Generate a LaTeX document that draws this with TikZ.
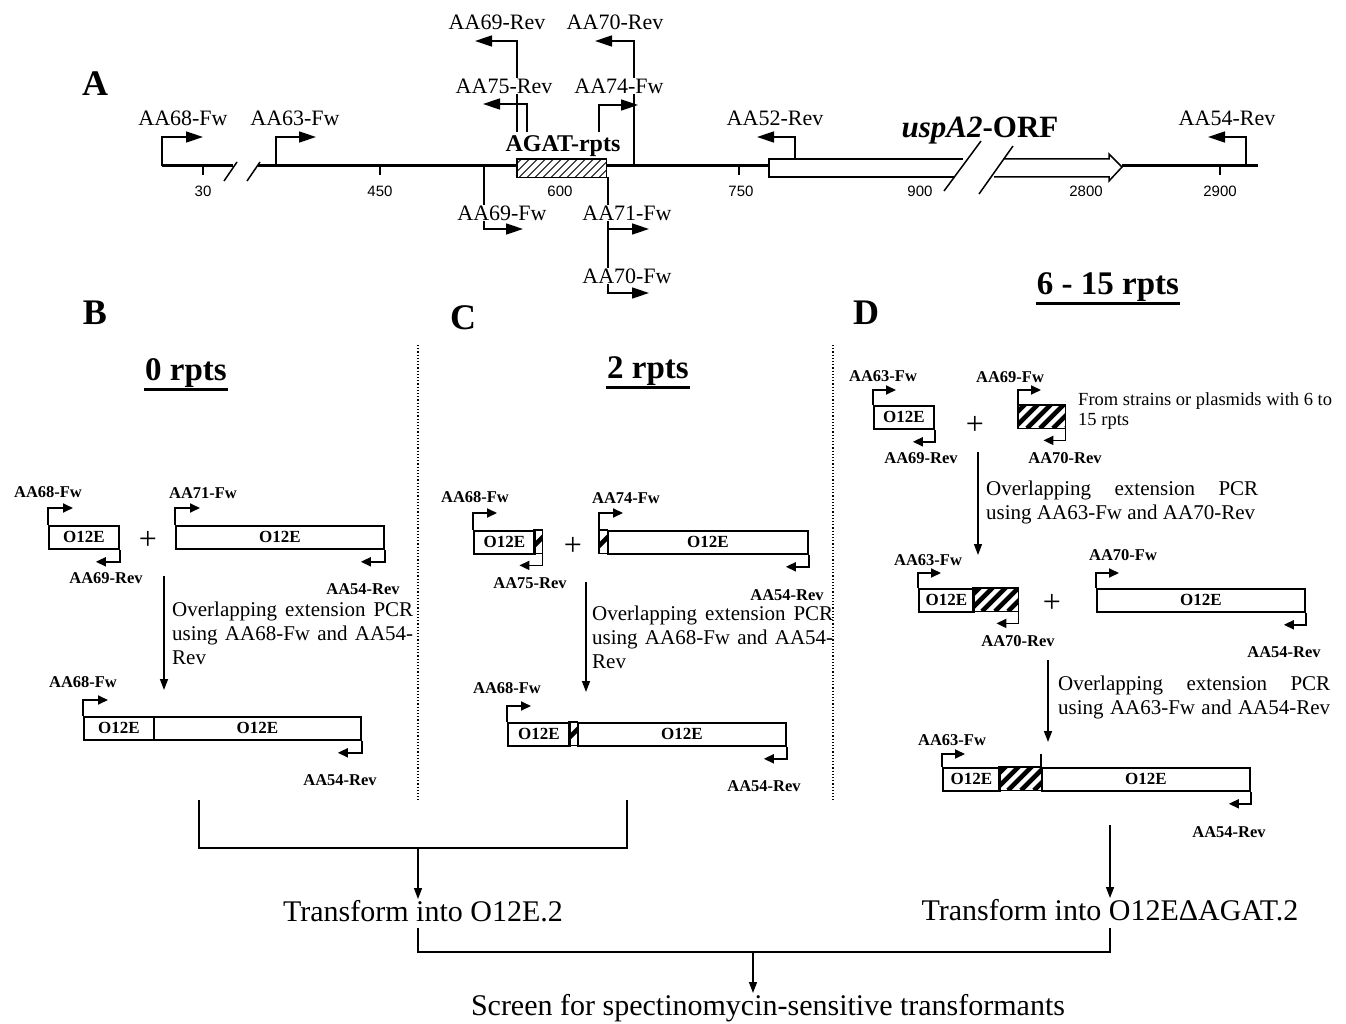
\documentclass[tikz,border=0pt]{standalone}
\usepackage{fontspec}
\setmainfont{Liberation Serif}
\setsansfont{Liberation Sans}
\usetikzlibrary{arrows.meta}
\newcommand{\fsz}[1]{\fontsize{#1}{#1}\selectfont}
\newcommand{\hatchbox}[4]{% node, spacing, line width, start offset
  \begin{scope}
    \clip (#1.south west) rectangle (#1.north east);
    \foreach \i in {0,...,14} {
      \pgfmathsetmacro{\kk}{#4+\i*#2}
      \draw[line width=#3] ([xshift=\kk pt]#1.south west) -- ++(60,-60);
    }
  \end{scope}
  \draw[line width=1.8pt] (#1.south west) rectangle (#1.north east);
}
\begin{document}
\begin{tikzpicture}[x=1pt,y=-1pt,
  every node/.style={inner sep=1pt},
  lblA/.style={font=\fsz{22}, fill=white, inner sep=1pt},
  lbl/.style={font=\fsz{16.5}\bfseries},
  primA/.style={line width=1.5pt, -{Triangle[length=17pt,width=11pt]}},
  prim/.style={line width=1.8pt, -{Triangle[length=10pt,width=9pt]}},
  seg/.style={draw, line width=1.8pt, fill=white, minimum height=23pt, inner sep=0pt, anchor=north west, font=\fsz{17}\bfseries},
  hseg/.style={minimum height=23pt, inner sep=0pt, anchor=north west},
  flow/.style={line width=1.5pt, -{Triangle[length=11pt,width=8pt]}},
  ptxt/.style={font=\fsz{21}, anchor=north west, align=left, inner sep=0pt},
  num/.style={font=\sffamily\fsz{15}},
  plus/.style={font=\fsz{32}},
  panel/.style={font=\fsz{36}\bfseries},
  head/.style={font=\fsz{33}\bfseries, inner sep=1pt},
  uline/.style={line width=2.4pt},
  divider/.style={dotted, line width=1.2pt},
  brk/.style={line width=1.5pt}
]
\useasboundingbox (0,0) rectangle (1346,1024);

% ================= Panel A =================
\node[panel] (pA) at (95,84) {A};

% main line
\coordinate (L0) at (162,166);
\coordinate (L1) at (233,166);
\coordinate (L2) at (258,166);
\coordinate (L3) at (769,166);
\coordinate (L4) at (1122,166);
\coordinate (L5) at (1258,166);
\draw[line width=3pt] (L0) -- (L1);
\draw[line width=3pt] (L2) -- (L3);
\draw[line width=3pt] (L4) -- (L5);
\draw[brk] (224,181) -- (237,162);
\draw[brk] (247,181) -- (260,162);

% ticks and numbers
\foreach \x in {203, 380, 739, 1220} {
  \draw[line width=1.5pt] (\x,166) -- (\x,175);
}
\node[num] (n30) at (203,191) {30};
\node[num] (n450) at (380,191) {450};
\node[num] (n600) at (560,191) {600};
\node[num] (n750) at (741,191) {750};
\node[num] (n900) at (920,191) {900};
\node[num] (n2800) at (1086,191) {2800};
\node[num] (n2900) at (1220,191) {2900};

% AGAT box
\node[hseg, minimum width=89pt, minimum height=18pt, fill=white] (agat) at (517,159) {};
\begin{scope}
  \clip (agat.south west) rectangle (agat.north east);
  \foreach \k in {-30,-22,...,100} {
    \draw[line width=0.9pt] ([xshift=\k pt]agat.south west) -- ++(30,-30);
  }
\end{scope}
\draw[line width=1.5pt] (agat.south west) rectangle (agat.north east);

% uspA2 ORF arrow
\filldraw[fill=white, line width=1.5pt] (963,159) -- (769,159) -- (769,177) -- (954,177);
\filldraw[fill=white, line width=1.5pt] (1004,159) -- (1109,159) -- (1109,154) -- (1122,167) -- (1109,181) -- (1109,177) -- (994,177);
\draw[brk] (944,191) -- (981,141);
\draw[brk] (979,194) -- (1013,146);
\node[font=\fsz{31}\bfseries, anchor=base] (orf) at (980,138) {\textit{uspA2}-ORF};

% primers in A
\draw[primA] (L0) -- (162,137) -- (203,137);
\draw[primA] (276,166) -- (276,137) -- (316,137);
\draw[primA] (517,132) -- (517,41) -- (475,41);
\draw[primA] (527,132) -- (527,104) -- (483,104);
\draw[primA] (634,166) -- (634,41) -- (595,41);
\draw[primA] (599,132) -- (599,105) -- (638,105);
\draw[primA] (484,166) -- (484,229) -- (523,229);
\draw[primA] (608,177) -- (608,293) -- (649,293);
\draw[primA] (608,177) -- (608,229) -- (649,229);
\draw[primA] (795,159) -- (795,137) -- (757,137);
\draw[primA] (1246,166) -- (1246,137) -- (1208,137);

\node[lblA] (a69r) at (497,22) {AA69-Rev};
\node[lblA] (a70r) at (615,22) {AA70-Rev};
\node[lblA] (a75r) at (504,86) {AA75-Rev};
\node[lblA] (a74f) at (619,86) {AA74-Fw};
\node[lblA] (a68f) at (183,118) {AA68-Fw};
\node[lblA] (a63f) at (295,118) {AA63-Fw};
\node[lblA] (a52r) at (775,118) {AA52-Rev};
\node[lblA] (a54r) at (1227,118) {AA54-Rev};
\node[font=\fsz{24}\bfseries, inner sep=0pt] (agatl) at (563,146) {AGAT-rpts};
\node[lblA] (a69f) at (502,213) {AA69-Fw};
\node[lblA] (a71f) at (627,213) {AA71-Fw};
\node[lblA] (a70f) at (627,276) {AA70-Fw};

% ================= Panel labels and headings =================
\node[panel] (pB) at (95,313) {B};
\node[panel] (pC) at (463,318) {C};
\node[panel] (pD) at (866,313) {D};
\node[head] (h0) at (186,373) {0 rpts};
\node[head] (h2) at (648,371) {2 rpts};
\node[head] (h6) at (1108,287) {6 - 15 rpts};
\draw[uline] ([yshift=-1pt]h0.south west) -- ([yshift=-1pt]h0.south east);
\draw[uline] ([yshift=-1pt]h2.south west) -- ([yshift=-1pt]h2.south east);
\draw[uline] ([yshift=-1pt]h6.south west) -- ([yshift=-1pt]h6.south east);

\draw[divider] (418,345) -- (418,800);
\draw[divider] (833,345) -- (833,800);

% ================= Panel B =================
\node[seg, minimum width=70pt] (b1) at (48,525) {O12E};
\draw[prim] (b1.north west) -- ++(0,-17) -- ++(25,0);
\draw[prim] (b1.south east) -- ++(0,12) -- ++(-24,0);
\node[lbl] (b1f) at (48,492) {AA68-Fw};
\node[lbl] (b1r) at (106,578) {AA69-Rev};
\node[plus] (bp) at (148,540) {+};
\node[seg, minimum width=208pt] (b2) at (175,525) {O12E};
\draw[prim] (b2.north west) -- ++(0,-17) -- ++(25,0);
\draw[prim] (b2.south east) -- ++(0,12) -- ++(-24,0);
\node[lbl] (b2f) at (203,493) {AA71-Fw};
\node[lbl] (b2r) at (363,589) {AA54-Rev};
\coordinate (bA0) at (164,576);
\coordinate (bA1) at (164,690);
\draw[flow] (bA0) -- (bA1);
\node[ptxt] (bt) at (172,602) {\makebox[241pt][s]{Overlapping extension PCR}\\[3pt]\makebox[241pt][s]{using AA68-Fw and AA54-}\\[3pt]Rev};
\node[seg, minimum width=70pt] (b3a) at (83,716) {O12E};
\node[seg, minimum width=207pt] (b3b) at (153,716) {O12E};
\draw[prim] (b3a.north west) -- ++(0,-16) -- ++(25,0);
\draw[prim] (b3b.south east) -- ++(0,12) -- ++(-24,0);
\node[lbl] (b3f) at (83,682) {AA68-Fw};
\node[lbl] (b3r) at (340,780) {AA54-Rev};

% ================= Panel C =================
\node[seg, minimum width=61pt] (c1) at (473,530) {O12E};
\node[hseg, minimum width=8pt] (c1h) at (534,530) {};
\hatchbox{c1h}{18}{4.5pt}{-25.5}
\draw[prim] (c1.north west) -- ++(0,-17) -- ++(24,0);
\draw[prim] (c1h.south east) -- ++(0,12) -- ++(-23,0);
\node[lbl] (c1f) at (475,497) {AA68-Fw};
\node[lbl] (c1r) at (530,583) {AA75-Rev};
\node[plus] (cp) at (573,546) {+};
\node[hseg, minimum width=8pt] (c2h) at (599,530) {};
\hatchbox{c2h}{18}{4.5pt}{-25.5}
\node[seg, minimum width=200pt] (c2) at (607,530) {O12E};
\draw[prim] (c2h.north west) -- ++(0,-17) -- ++(24,0);
\draw[prim] (c2.south east) -- ++(0,12) -- ++(-23,0);
\node[lbl] (c2f) at (626,498) {AA74-Fw};
\node[lbl] (c2r) at (787,595) {AA54-Rev};
\coordinate (cA0) at (586,582);
\coordinate (cA1) at (586,692);
\draw[flow] (cA0) -- (cA1);
\node[ptxt] (ct) at (592,606) {\makebox[241pt][s]{Overlapping extension PCR}\\[3pt]\makebox[241pt][s]{using AA68-Fw and AA54-}\\[3pt]Rev};
\node[seg, minimum width=62pt] (c3a) at (507,722) {O12E};
\node[hseg, minimum width=8pt] (c3h) at (569,722) {};
\hatchbox{c3h}{18}{4.5pt}{-25.5}
\node[seg, minimum width=208pt] (c3b) at (577,722) {O12E};
\draw[prim] (c3a.north west) -- ++(0,-16) -- ++(24,0);
\draw[prim] (c3b.south east) -- ++(0,12) -- ++(-23,0);
\node[lbl] (c3f) at (507,688) {AA68-Fw};
\node[lbl] (c3r) at (764,786) {AA54-Rev};

% ================= Panel D =================
\node[seg, minimum width=60pt] (d1) at (873,405) {O12E};
\draw[prim] (d1.north west) -- ++(0,-15) -- ++(23,0);
\draw[prim] (d1.south east) -- ++(0,12) -- ++(-22,0);
\node[lbl] (d1f) at (883,376) {AA63-Fw};
\node[lbl] (d1r) at (921,458) {AA69-Rev};
\node[plus] (dp1) at (975,425) {+};
\node[hseg, minimum width=47pt] (d2) at (1018,405) {};
\hatchbox{d2}{13}{4.5pt}{-30}
\draw[prim] (d2.north west) -- ++(0,-15) -- ++(23,0);
\draw[prim] (d2.south east) -- ++(0,12) -- ++(-22,0);
\node[lbl] (d2f) at (1010,377) {AA69-Fw};
\node[lbl] (d2r) at (1065,458) {AA70-Rev};
\node[font=\fsz{18.5}, anchor=north west, align=left, inner sep=0pt] (dnote) at (1078,392) {From strains or plasmids with 6 to\\[2pt]15 rpts};
\coordinate (dA0) at (978,452);
\coordinate (dA1) at (978,555);
\draw[flow] (dA0) -- (dA1);
\node[ptxt] (dt1) at (986,481) {\makebox[272pt][s]{Overlapping extension PCR}\\[3pt]using AA63-Fw and AA70-Rev};

\node[seg, minimum width=55pt] (d3a) at (918,588) {O12E};
\node[hseg, minimum width=45pt] (d3h) at (973,588) {};
\hatchbox{d3h}{13}{4.5pt}{-30}
\draw[prim] (d3a.north west) -- ++(0,-15) -- ++(23,0);
\draw[prim] (d3h.south east) -- ++(0,12) -- ++(-22,0);
\node[lbl] (d3f) at (928,560) {AA63-Fw};
\node[lbl] (d3r) at (1018,641) {AA70-Rev};
\node[plus] (dp2) at (1052,603) {+};
\node[seg, minimum width=208pt] (d4) at (1096,588) {O12E};
\draw[prim] (d4.north west) -- ++(0,-15) -- ++(23,0);
\draw[prim] (d4.south east) -- ++(0,12) -- ++(-22,0);
\node[lbl] (d4f) at (1123,555) {AA70-Fw};
\node[lbl] (d4r) at (1284,652) {AA54-Rev};
\coordinate (dB0) at (1048,660);
\coordinate (dB1) at (1048,742);
\draw[flow] (dB0) -- (dB1);
\node[ptxt] (dt2) at (1058,676) {\makebox[272pt][s]{Overlapping extension PCR}\\[3pt]\makebox[272pt][s]{using AA63-Fw and AA54-Rev}};

\node[seg, minimum width=57pt] (d5a) at (942,767) {O12E};
\node[hseg, minimum width=42pt] (d5h) at (999,767) {};
\hatchbox{d5h}{13}{4.5pt}{-30}
\node[seg, minimum width=208pt] (d5b) at (1041,767) {O12E};
\draw[line width=1.8pt] (d5b.north west) -- ++(0,-13);
\draw[prim] (d5a.north west) -- ++(0,-13) -- ++(23,0);
\draw[prim] (d5b.south east) -- ++(0,12) -- ++(-22,0);
\node[lbl] (d5f) at (952,740) {AA63-Fw};
\node[lbl] (d5r) at (1229,832) {AA54-Rev};

% ================= Bottom =================
\coordinate (k1) at (199,800);
\coordinate (k2) at (199,848);
\coordinate (k3) at (627,848);
\coordinate (k4) at (627,800);
\coordinate (km) at (418,848);
\draw[line width=1.5pt] (k1) -- (k2) -- (k3) -- (k4);
\node[font=\fsz{30}] (t1) at (423,911) {Transform into O12E.2};
\draw[flow] (km) -- (km |- t1.north);
\coordinate (dC0) at (1110,825);
\node[font=\fsz{30}] (t2) at (1110,910) {Transform into O12EΔAGAT.2};
\draw[flow] (dC0) -- (dC0 |- t2.north);
\coordinate (m1) at (418,928);
\coordinate (m2) at (418,952);
\coordinate (m3) at (1110,952);
\coordinate (m4) at (1110,928);
\coordinate (mm) at (753,952);
\draw[line width=1.5pt] (m1) -- (m2) -- (m3) -- (m4);
\node[font=\fsz{30}] (scr) at (768,1008) {Screen for spectinomycin-sensitive transformants};
\draw[flow] (mm) -- (mm |- scr.north);
\end{tikzpicture}
\end{document}
